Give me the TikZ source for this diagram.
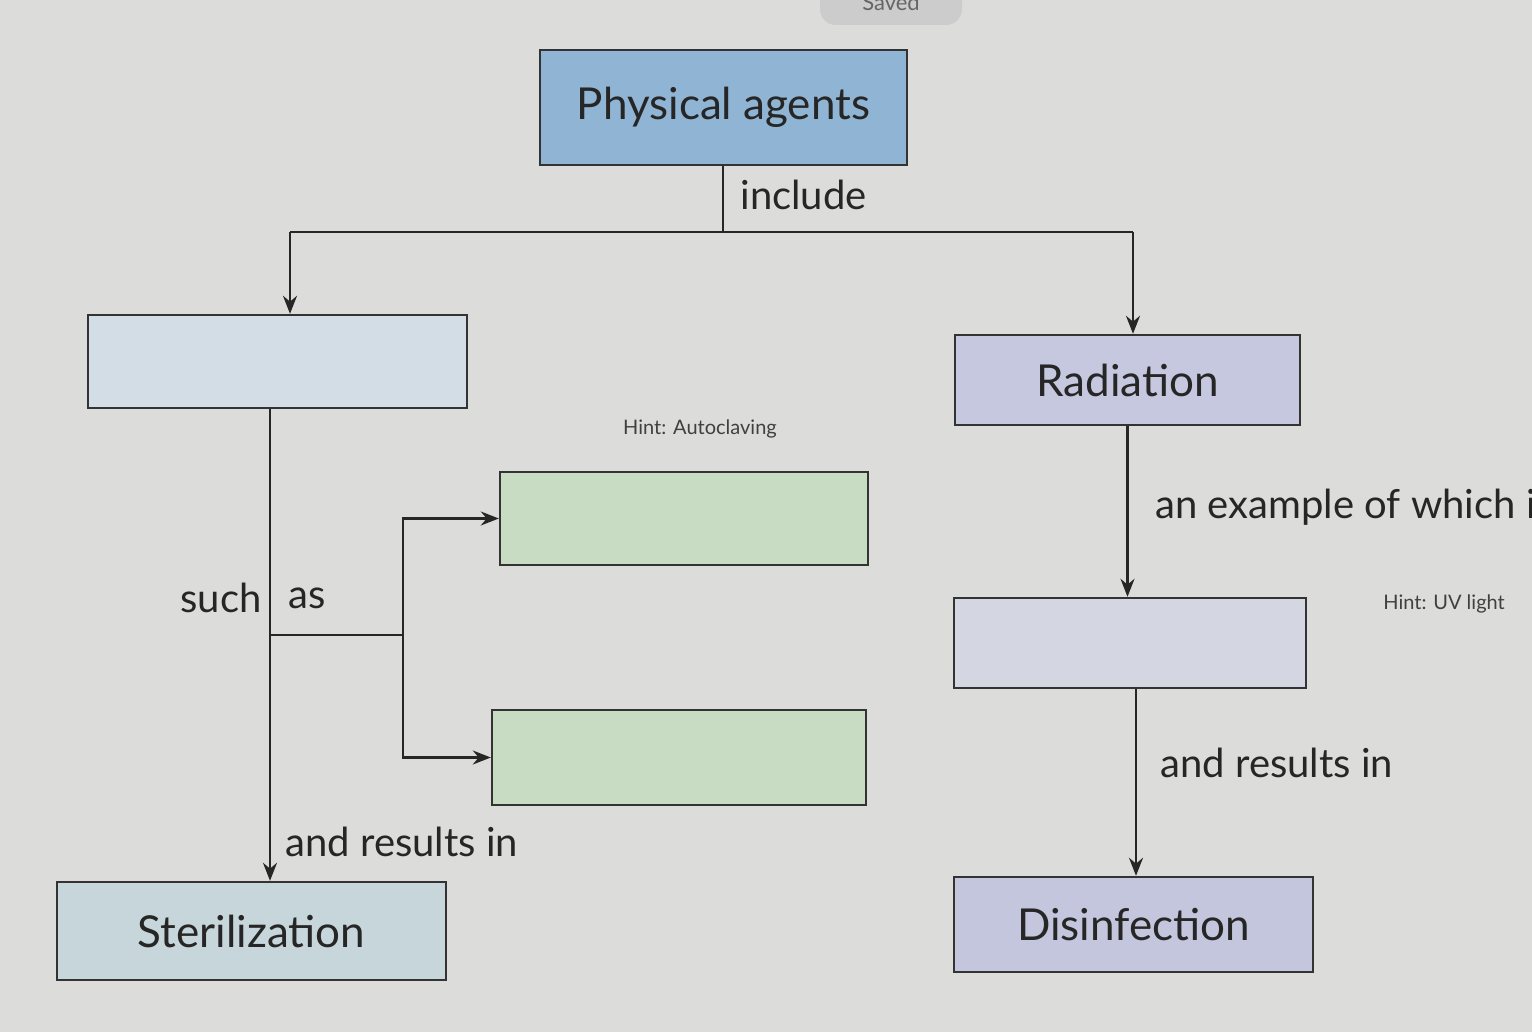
\documentclass[tikz,border=0pt]{standalone}
\usepackage{fontspec}
\setmainfont{Lato}
\usetikzlibrary{arrows.meta}
\definecolor{bg}{HTML}{DCDCDA}
\definecolor{pa}{HTML}{8FB4D4}
\definecolor{gb}{HTML}{D3DDE5}
\definecolor{rad}{HTML}{C5C8DE}
\definecolor{gr}{HTML}{C8DCC4}
\definecolor{er}{HTML}{D4D6E2}
\definecolor{st}{HTML}{C6D6DA}
\definecolor{ds}{HTML}{C3C6DC}
\begin{document}
\begin{tikzpicture}[x=0.5pt,y=-0.5pt,
  box/.style={draw=black!80,line width=1.2pt,inner sep=0pt,font=\fontsize{22}{26}\selectfont,text=black!85},
  lbl/.style={font=\fontsize{20}{24}\selectfont,text=black!85,inner sep=0pt,anchor=west},
  hint/.style={font=\fontsize{10}{12}\selectfont,text=black!75,inner sep=0pt},
  ln/.style={draw=black!85,line width=1.2pt},
  arr/.style={ln,-{Stealth[length=9pt,width=7pt]}}]
\fill[bg] (0,0) rectangle (1532,1032);
\useasboundingbox (0,0) rectangle (1532,1032);
\begin{scope}
\clip (0,0) rectangle (1532,1032);
\fill[black!20,rounded corners=8pt] (820,-30) rectangle (962,25);
\node[font=\fontsize{11}{13}\selectfont,text=black!60] (sv) at (891,2) {Saved};
\end{scope}
\node[box,fill=pa,minimum width=183.5pt,minimum height=57.5pt] (pa) at (723.5,107.5) {Physical agents};
\node[box,fill=gb,minimum width=189.5pt,minimum height=46.5pt] (lb) at (277.5,361.5) {};
\node[box,fill=rad,minimum width=172.5pt,minimum height=45pt] (ra) at (1127.5,380) {Radiation};
\node[box,fill=gr,minimum width=184pt,minimum height=46.5pt] (g1) at (684,518.5) {};
\node[box,fill=gr,minimum width=187pt,minimum height=47.5pt] (g2) at (679,757.5) {};
\node[box,fill=er,minimum width=176pt,minimum height=45pt] (er) at (1130,643) {};
\node[box,fill=st,minimum width=194.5pt,minimum height=49pt] (st) at (251.5,931) {Sterilization};
\node[box,fill=ds,minimum width=179.5pt,minimum height=47.5pt] (ds) at (1133.5,924.5) {Disinfection};
\coordinate (j) at (723,232);
\coordinate (jl) at (290,232);
\coordinate (jr) at (1133,232);
\draw[ln] (pa.south -| j) -- (j);
\draw[ln] (jl) -- (jr);
\draw[arr] (jl) -- (lb.north -| jl);
\draw[arr] (jr) -- (ra.north -| jr);
\node[lbl] (inc) at (740,195) {include};
\coordinate (s1) at (270,408);
\draw[arr] (s1 |- lb.south) -- (s1 |- st.north);
\coordinate (b0) at (270,635);
\coordinate (b1) at (403,635);
\draw[ln] (b0) -- (b1);
\draw[arr] (b1) |- (g1.west);
\draw[arr] (b1) |- (g2.west);
\node[lbl,anchor=east] (such) at (262,598) {such};
\node[lbl] (as) at (288,598) {as};
\node[lbl] (ar1) at (285,842) {and results in};
\node[hint] (h1) at (700,429) {Hint: Autoclaving};
\draw[arr] (ra.south) -- (er.north -| ra.south);
\node[lbl] (ex) at (1155,507) {an example of which i};
\node[hint,anchor=west] (h2) at (1383,604) {Hint: UV light};
\coordinate (s2) at (1136,688);
\draw[arr] (s2 |- er.south) -- (s2 |- ds.north);
\node[lbl] (ar2) at (1160,763) {and results in};
\end{tikzpicture}
\end{document}
